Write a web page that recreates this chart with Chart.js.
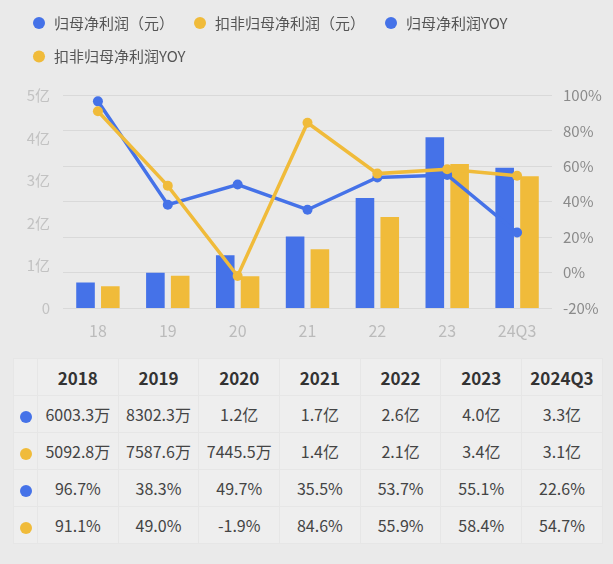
<!DOCTYPE html>
<html>
<head>
<meta charset="utf-8">
<script src="https://cdn.jsdelivr.net/npm/chart.js@4.4.1/dist/chart.umd.min.js"></script>
<style>
    html, body { margin: 0; padding: 0; background: #eaeaea; }
    body { width: 613px; height: 564px; position: relative; overflow: hidden;
           font-family: "Noto Sans CJK SC", "Noto Sans", sans-serif; }
    #chartBox { position: absolute; left: 0; top: 0; width: 613px; height: 350px; }
    #dataTable { position: absolute; left: 13px; top: 358px; border-collapse: collapse; table-layout: fixed; }
    #dataTable td, #dataTable th { height: 36px; padding: 0; text-align: center; background: #eeeeee;
           border: 1px solid #e6e6e6; color: #444; font-size: 16px; font-weight: 400; white-space: nowrap; }
    #dataTable th { font-size: 17px; font-weight: 700; color: #333; }
    #dataTable col.first { width: 24px; }
    #dataTable col.year { width: 80.7px; }
    .dot { display: inline-block; width: 12px; height: 12px; border-radius: 50%; vertical-align: middle; }
</style>
</head>
<body>
<div id="chartBox"><canvas id="profitChart"></canvas></div>
<table id="dataTable">
    <colgroup><col class="first"></colgroup>
    <thead><tr></tr></thead>
    <tbody></tbody>
</table>
<script>
// Chart data (利润单位: 亿元, 同比单位: %)
const categories = ['18', '19', '20', '21', '22', '23', '24Q3'];
const tableYears = ['2018', '2019', '2020', '2021', '2022', '2023', '2024Q3'];
const netProfit = [0.6003, 0.8302, 1.24, 1.68, 2.59, 4.02, 3.3];
const deductedProfit = [0.5093, 0.7588, 0.7446, 1.38, 2.14, 3.39, 3.1];
const netProfitYoy = [96.7, 38.3, 49.7, 35.5, 53.7, 55.1, 22.6];
const deductedYoy = [91.1, 49.0, -1.9, 84.6, 55.9, 58.4, 54.7];
const netProfitText = ['6003.3万', '8302.3万', '1.2亿', '1.7亿', '2.6亿', '4.0亿', '3.3亿'];
const deductedText = ['5092.8万', '7587.6万', '7445.5万', '1.4亿', '2.1亿', '3.4亿', '3.1亿'];

const BLUE = '#4572e8';
const YELLOW = '#f0bb3a';
const FONT = '"Noto Sans CJK SC", sans-serif';

// give the legend a fixed height so the plot starts lower, like the original
const legendSpace = {
    id: 'legendSpace',
    beforeInit(chart) {
        const fit = chart.legend.fit;
        chart.legend.fit = function () {
            fit.call(this);
            this.height = 98.5;
        };
    }
};

const ctx = document.getElementById('profitChart').getContext('2d');
new Chart(ctx, {
    type: 'bar',
    data: {
        labels: categories,
        datasets: [
            { label: '归母净利润（元）', data: netProfit, backgroundColor: BLUE, yAxisID: 'y', order: 2,
              categoryPercentage: 0.71, barPercentage: 0.75 },
            { label: '扣非归母净利润（元）', data: deductedProfit, backgroundColor: YELLOW, yAxisID: 'y', order: 2,
              categoryPercentage: 0.71, barPercentage: 0.75 },
            { type: 'line', label: '归母净利润YOY', data: netProfitYoy, yAxisID: 'y1', order: 1,
              borderColor: BLUE, backgroundColor: BLUE, borderWidth: 3.5, pointRadius: 5, pointBorderWidth: 0 },
            { type: 'line', label: '扣非归母净利润YOY', data: deductedYoy, yAxisID: 'y1', order: 0,
              borderColor: YELLOW, backgroundColor: YELLOW, borderWidth: 3.5, pointRadius: 5, pointBorderWidth: 0 }
        ]
    },
    options: {
        responsive: true,
        maintainAspectRatio: false,
        animation: false,
        layout: { padding: { top: -3, left: 13, right: 0, bottom: 0 } },
        plugins: {
            tooltip: { enabled: false },
            legend: {
                position: 'top',
                align: 'start',
                labels: {
                    usePointStyle: true,
                    pointStyle: 'circle',
                    boxWidth: 15,
                    boxHeight: 8.5,
                    padding: 18.5,
                    color: '#555',
                    font: { size: 15, family: FONT },
                    sort: (a, b) => a.datasetIndex - b.datasetIndex
                }
            }
        },
        scales: {
            x: {
                grid: { display: false, drawTicks: false },
                border: { display: false },
                ticks: { color: '#bbbbbb', padding: 13, font: { size: 16, family: FONT } },
                afterFit: (scale) => { scale.height = 42; }
            },
            y: {
                position: 'left',
                min: 0,
                max: 5,
                grid: { display: false, drawTicks: false },
                border: { display: false },
                ticks: {
                    stepSize: 1,
                    padding: 13,
                    color: '#c2c2c2',
                    font: { size: 15, family: FONT },
                    callback: (v) => v === 0 ? '0' : v + '亿'
                },
                afterFit: (scale) => { scale.width = 50; }
            },
            y1: {
                position: 'right',
                min: -20,
                max: 100,
                grid: { color: '#d9d9d9', lineWidth: 1, drawTicks: false },
                border: { display: false },
                ticks: {
                    stepSize: 20,
                    padding: 11,
                    color: '#8a8a8a',
                    font: { size: 15, family: FONT },
                    callback: (v) => v + '%'
                },
                afterFit: (scale) => { scale.width = 61; }
            }
        }
    },
    plugins: [legendSpace]
});

// Data table under the chart
function buildTable() {
    const table = document.getElementById('dataTable');
    const colgroup = table.querySelector('colgroup');
    const headRow = table.querySelector('thead tr');
    const tbody = table.querySelector('tbody');

    headRow.appendChild(document.createElement('th'));
    tableYears.forEach(year => {
        const col = document.createElement('col');
        col.className = 'year';
        colgroup.appendChild(col);
        const th = document.createElement('th');
        th.textContent = year;
        headRow.appendChild(th);
    });

    const rows = [
        { color: BLUE, values: netProfitText },
        { color: YELLOW, values: deductedText },
        { color: BLUE, values: netProfitYoy.map(v => v.toFixed(1) + '%') },
        { color: YELLOW, values: deductedYoy.map(v => v.toFixed(1) + '%') }
    ];
    rows.forEach(r => {
        const tr = document.createElement('tr');
        const first = document.createElement('td');
        first.innerHTML = `<span class="dot" style="background:${r.color}"></span>`;
        tr.appendChild(first);
        r.values.forEach(v => {
            const td = document.createElement('td');
            td.textContent = v;
            tr.appendChild(td);
        });
        tbody.appendChild(tr);
    });
}
buildTable();
</script>
</body>
</html>
